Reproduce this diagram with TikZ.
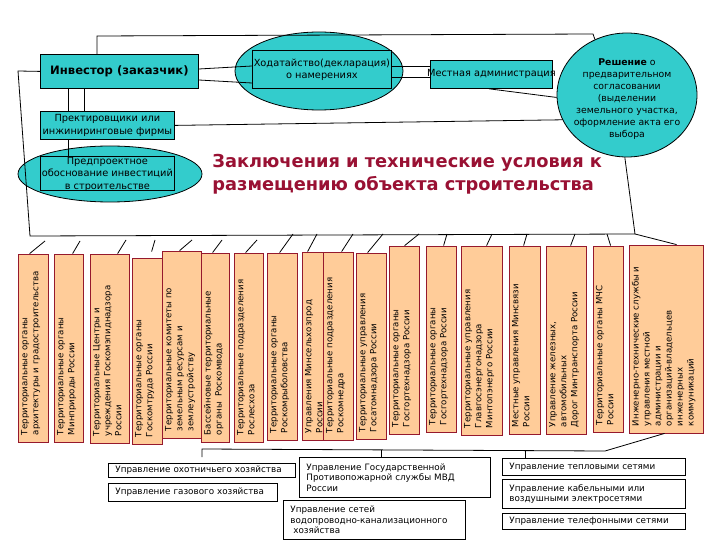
\documentclass[tikz,border=0pt]{standalone}
\usepackage{fontspec}
\setmainfont{DejaVu Sans}
\usetikzlibrary{shapes.geometric,fit}
\definecolor{tealc}{RGB}{51,204,204}
\definecolor{peach}{RGB}{255,204,153}
\definecolor{bordc}{RGB}{150,25,45}
\definecolor{titlec}{RGB}{153,17,51}
\newcommand\vbx[4]{%
  \node[vbox, fit={#2 #3}] (#1) {};
  \node[vtxt] (#1t) at ([xshift=3pt,yshift=7pt]#1.south west) {#4};}
\begin{document}
\begin{tikzpicture}[x=1pt,y=-1pt,line width=0.8pt,
  tbox/.style={draw, fill=tealc, inner sep=0pt, anchor=north west},
  tell/.style={draw, fill=tealc, ellipse, inner sep=0pt},
  ttxt/.style={align=center, inner sep=0pt, font=\fontsize{9.8}{12.2}\selectfont},
  vbox/.style={draw=bordc, fill=peach, inner sep=0pt},
  vtxt/.style={rotate=90, anchor=north west, align=left, inner sep=0pt, font=\fontsize{8.6}{11}\selectfont},
  wbox/.style={draw, fill=white, anchor=north west, inner xsep=7pt, inner ysep=0pt, align=left, font=\fontsize{8.8}{10.5}\selectfont},
  conn/.style={draw, line width=0.8pt}]
\useasboundingbox (0,0) rectangle (720,540);
% ---------- ellipses
\node[tell, minimum width=168pt, minimum height=78pt] (hodE) at (319,71) {};
\node[tell, minimum width=140pt, minimum height=124pt] (res) at (627,95) {};
\node[tell, minimum width=184pt, minimum height=56pt] (predE) at (110,174) {};
% ---------- teal boxes
\node[tbox, minimum width=158pt, minimum height=34pt] (inv) at (40,54) {};
\node[font=\fontsize{11.6}{13}\bfseries\selectfont, inner sep=0pt] (invt) at (inv.center) {Инвестор (заказчик)};
\node[tbox, minimum width=139pt, minimum height=38pt] (hod) at (252,50) {};
\node[ttxt] (hodt) at (hod.center) {Ходатайство(декларация)\\о намерениях};
\node[tbox, minimum width=122pt, minimum height=28pt] (mest) at (430,60) {};
\node[ttxt] (mestt) at (mest.center) {Местная администрация};
\node[tbox, minimum width=134pt, minimum height=28pt] (prek) at (40,111) {};
\node[ttxt] (prekt) at (prek.center) {Пректировщики или\\инжиниринговые фирмы};
\node[tbox, minimum width=134pt, minimum height=34pt] (pred) at (40,156) {};
\node[ttxt] (predt) at ([yshift=-1pt]pred.center) {Предпроектное\\обоснование инвестиций\\в строительстве};
\node[ttxt, font=\fontsize{9.3}{12}\selectfont] (rest) at ([yshift=-4pt]res.center)
  {\textbf{Решение} о\\предварительном\\согласовании\\(выделении\\земельного участка,\\оформление акта его\\выбора};
% ---------- title
\node[anchor=north west, align=left, inner sep=0pt, text=titlec,
  font=\fontsize{17.8}{22.5}\bfseries\selectfont] (title) at (212,154)
  {Заключения и технические условия к\\размещению объекта строительства};
% ---------- top connectors
\coordinate (hub) at (635,234);
\coordinate (lcorner) at (30,236);
\draw[conn] ([xshift=57pt]inv.north west) -- (97,36) -- (593,34) -- (res.120);
\draw[conn] (inv.west) -- (18,71) -- (lcorner) -- (hub) -- (res.268);
\draw[conn] ([yshift=-15pt]inv.north east) -- ([yshift=-16pt]hod.north west);
\draw[conn] ([yshift=-26pt]inv.north east) -- ([yshift=-33pt]hod.north west);
\draw[conn] ([yshift=-16pt]hod.north east) -- ([yshift=-6pt]mest.north west);
\draw[conn] ([yshift=-27pt]hod.north east) -- ([yshift=-17pt]mest.north west);
\draw[conn] ([xshift=59pt]mest.south west) -- (res.182);
\draw[conn] ([xshift=28pt]inv.south west) -- ([xshift=28pt]prek.north west);
\draw[conn] ([xshift=44pt]inv.south west) -- ([xshift=44pt]prek.north west);
\draw[conn] (prek.east) -- (res.201);
\draw[conn] ([xshift=28pt]prek.south west) -- ([xshift=28pt]pred.north west);
% ---------- vertical boxes
\vbx{v1}{(18,254)}{(48,442)}{Территориальные органы\\архитектуры и градостроительства}
\vbx{v2}{(54,254)}{(83,442)}{Территориальные органы\\Минприроды России}
\vbx{v3}{(90,254)}{(129,443)}{Территориальные Центры и\\учреждения Госкомэпиднадзора\\России}
\vbx{v4}{(132,258)}{(162,444)}{Территориальные органы\\Госкомтруда России}
\vbx{v5}{(162,251)}{(201,438)}{Территориальные комитеты по\\земельным ресурсам и\\землеустройству}
\vbx{v6}{(201,253)}{(229,442)}{Бассейновые территориальные\\органы\ \ Роскомвода}
\vbx{v7}{(234,253)}{(263,442)}{Территориальные подразделения\\Рослесхоза}
\vbx{v8}{(267,253)}{(297,440)}{Территориальные органы\\Роскомрыболовства}
\vbx{v9}{(302,252)}{(332,440)}{Управления Минсельхозпрод\\России}
\vbx{v10}{(323,252)}{(353,440)}{Территориальные подразделения\\Роскомнедра}
\vbx{v11}{(356,253)}{(386,439)}{Территориальные управления\\Госатомнадзора России}
\vbx{v12}{(389,246)}{(419,434)}{Территориальные органы\\Госгортехнадзора России}
\vbx{v13}{(426,246)}{(456,432)}{Территориальные органы\\Госгортехнадзора России}
\vbx{v14}{(461,246)}{(502,435)}{Территориальные управления\\Главгосэнергонадзора\\Минтопэнерго России}
\vbx{v15}{(509,246)}{(540,434)}{Местные управления Минсвязи\\России}
\vbx{v16}{(546,246)}{(586,434)}{Управление железных,\\автомобильных\\Дорог Минтранспорта России}
\vbx{v17}{(593,246)}{(623,432)}{Территориальные органы МЧС\\России}
\vbx{v18}{(629,245)}{(703,433)}{Инженерно-технические службы и\\управления местной\\администрации и\\организаций-владельцев\\инженерных\\коммуникаций}
% ---------- ticks
\draw[conn] (45,241) -- ([xshift=12pt]v1.north west);
\draw[conn] (80,241) -- ([xshift=19pt]v2.north west);
\draw[conn] (126,240) -- ([xshift=28pt]v3.north west);
\draw[conn] (155,240) -- ([xshift=20pt,yshift=6pt]v4.north west);
\draw[conn] (192,240) -- ([xshift=18pt]v5.north west);
\draw[conn] (222,240) -- ([xshift=12pt]v6.north west);
\draw[conn] (257,240) -- ([xshift=12pt]v7.north west);
\draw[conn] (293,234) -- ([xshift=13pt]v8.north west);
\draw[conn] (317,234) -- ([xshift=6pt]v9.north west);
\draw[conn] (353,234) -- ([xshift=19pt]v10.north west);
\draw[conn] (383,234) -- ([xshift=12pt]v11.north west);
\draw[conn] (419,234) -- ([xshift=16pt]v12.north west);
\draw[conn] (447,234) -- ([xshift=18pt]v13.north west);
\draw[conn] (492,234) -- ([xshift=26pt]v14.north west);
\draw[conn] (527,234) -- ([xshift=15pt]v15.north west);
\draw[conn] (575,234) -- ([xshift=25pt]v16.north west);
\draw[conn] (607,234) -- ([xshift=18pt]v17.north west);
\draw[conn] (hub) -- ([xshift=48pt]v18.north west);
% ---------- bottom boxes
\node[wbox, text width=173pt, minimum height=14pt] (okh) at (108,463) {Управление охотничьего хозяйства};
\node[wbox, text width=155pt, minimum height=18pt] (gaz) at (108,483) {Управление газового хозяйства};
\node[wbox, text width=177pt, minimum height=40pt] (gos) at (299,457) {Управление Государственной\\Противопожарной службы МВД\\России};
\node[wbox, text width=168pt, minimum height=39pt] (set) at (283,500) {Управление сетей\\водопроводно-канализационного\\\ хозяйства};
\node[wbox, text width=169pt, minimum height=17pt] (tep) at (502,458) {Управление тепловыми сетями};
\node[wbox, text width=169pt, minimum height=29pt] (kab) at (502,479) {Управление кабельными или\\воздушными электросетями};
\node[wbox, text width=169pt, minimum height=16pt] (tel) at (502,513) {Управление телефонными сетями};
% ---------- bottom connectors
\coordinate (bl) at (202,449);
\coordinate (br) at (605,451);
\draw[conn] ([xshift=36pt]v18.south west) -- (br) -- (bl) -- ([xshift=94pt,yshift=6pt]okh.north west);
\draw[conn] (381,450) -- ([xshift=82pt]gos.north west);
\draw[conn] (525,451) -- ([xshift=23pt]tep.north west);
\end{tikzpicture}
\end{document}
